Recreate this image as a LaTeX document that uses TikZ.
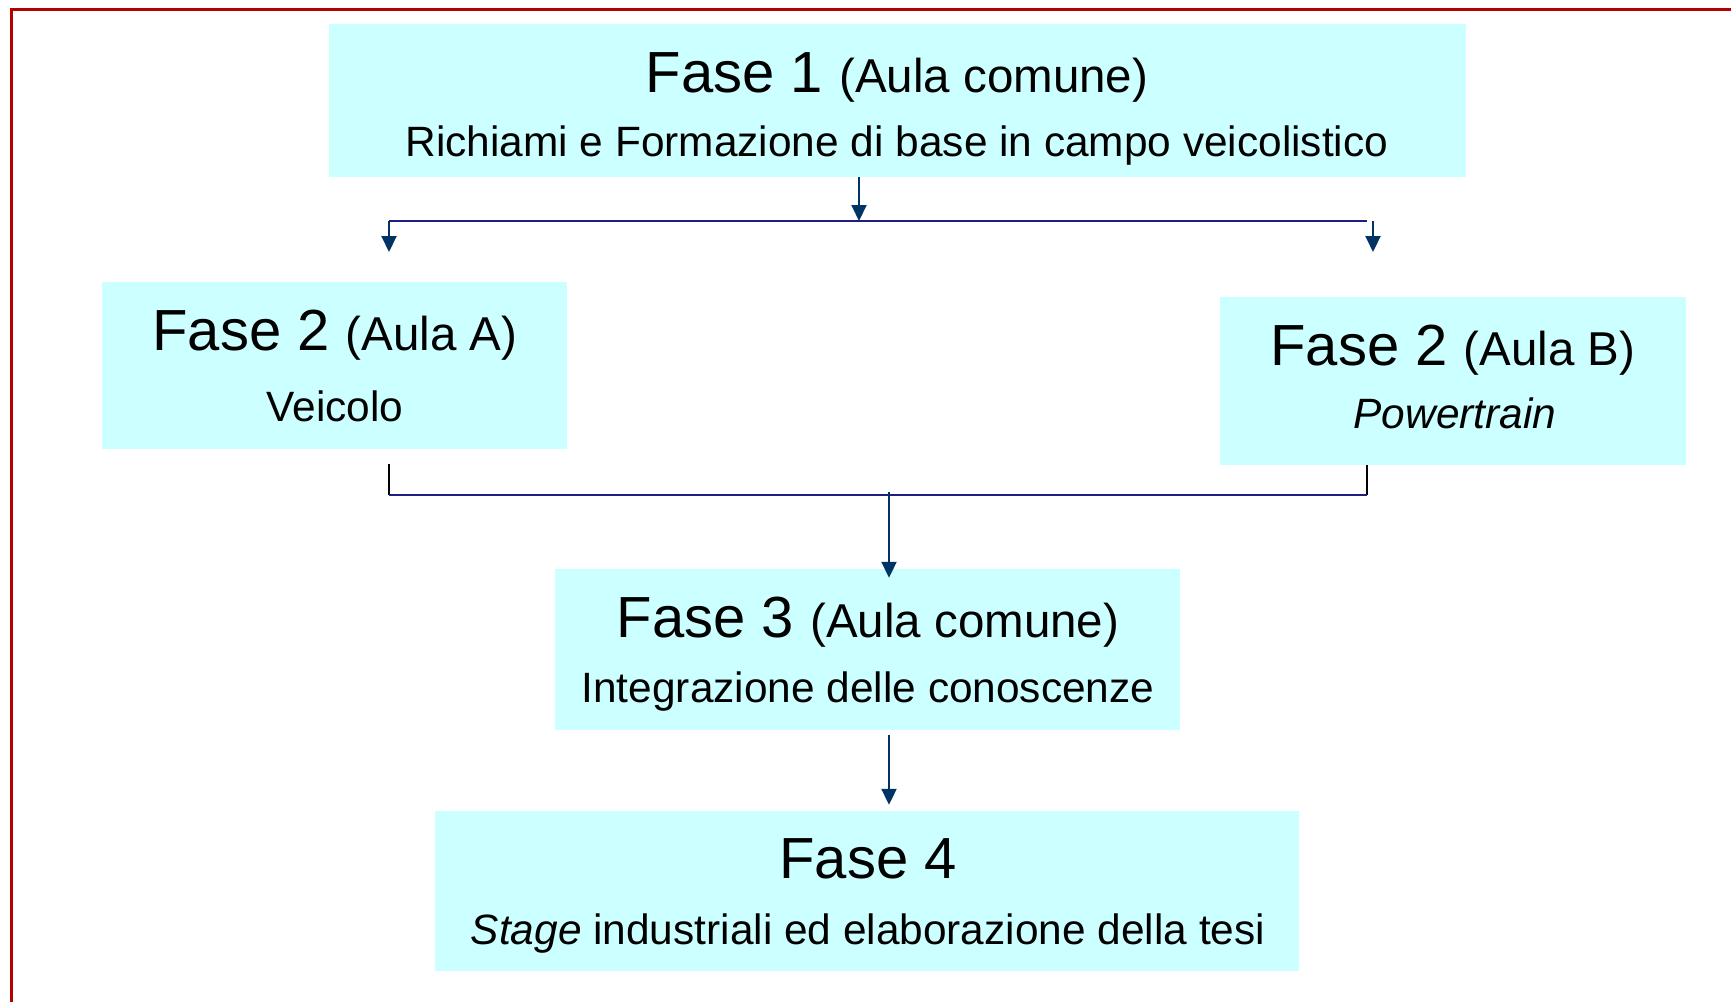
\documentclass[tikz,border=0pt]{standalone}
\usepackage{fontspec}
\setmainfont{Liberation Sans}
\usetikzlibrary{arrows.meta,calc}
\definecolor{boxfill}{HTML}{CCFFFF}
\definecolor{arrowblue}{HTML}{003366}
\definecolor{lineblue}{HTML}{1E1E82}
\definecolor{framered}{HTML}{B30000}
\newcommand{\fasefont}{\fontsize{58}{60}\selectfont}
\newcommand{\aulafont}{\fontsize{47.5}{50}\selectfont}
\newcommand{\subfont}{\fontsize{42.4}{46}\selectfont}
\begin{document}
\begin{tikzpicture}[x=1pt,y=-1pt,
  phasebox/.style={rectangle, fill=boxfill, draw=none, inner sep=0pt},
  txt/.style={anchor=base, inner sep=0pt, text=black},
  arr/.style={draw=arrowblue, line width=2pt, -{Triangle[width=15pt,length=16pt]}},
  hline/.style={draw=lineblue, line width=2.5pt},
  vline/.style={draw=black, line width=2pt}]
\useasboundingbox[fill=white] (0,0) rectangle (1731,1001);
% frame
\draw[framered, line width=3.5pt] (11.5,1010) -- (11.5,9.5) -- (1740,9.5);
% boxes
\node[phasebox, minimum width=1137pt, minimum height=153pt] (b1) at (897.5,100.5) {};
\node[phasebox, minimum width=465pt, minimum height=167pt] (b2a) at (334.5,365.5) {};
\node[phasebox, minimum width=466pt, minimum height=168pt] (b2b) at (1453,381) {};
\node[phasebox, minimum width=625pt, minimum height=161pt] (b3) at (867.5,649.5) {};
\node[phasebox, minimum width=864pt, minimum height=160pt] (b4) at (867,891) {};
% texts
\node[txt] (t1) at (897,92) {\fasefont Fase 1 \aulafont (Aula comune)};
\node[txt] (s1) at (897,156) {\subfont Richiami e Formazione di base in campo veicolistico};
\node[txt] (t2a) at (335,350) {\fasefont Fase 2 \aulafont (Aula A)};
\node[txt] (s2a) at (335,421) {\subfont Veicolo};
\node[txt] (t2b) at (1453,365) {\fasefont Fase 2 \aulafont (Aula B)};
\node[txt] (s2b) at (1455,428) {\subfont\itshape Powertrain};
\node[txt] (t3) at (868,637) {\fasefont Fase 3 \aulafont (Aula comune)};
\node[txt] (s3) at (868,702) {\subfont Integrazione delle conoscenze};
\node[txt] (t4) at (868,878) {\fasefont Fase 4};
\node[txt] (s4) at (868,944) {\subfont\textit{Stage} industriali ed elaborazione della tesi};
% split coordinates
\coordinate (sp) at (859,221);
\coordinate (spl) at (389,221);
\coordinate (spr) at (1373,221);
\coordinate (endl) at (389,252);
\coordinate (endr) at (1373,252);
\coordinate (jl) at (389,495);
\coordinate (jr) at (1367,495);
\coordinate (jm) at (889,495);
% connectors
\draw[hline] (spl) -- (1367,221);
\draw[arr] (b1.south -| sp) -- (sp);
\draw[arr] (spl) -- (endl);
\draw[arr] (spr) -- (endr);
\draw[vline] (jl |- 0,464) -- (jl);
\draw[vline] (b2b.south -| jr) -- (jr);
\draw[hline] (jl) -- (jr);
\draw[arr] ($(jm)+(0,-3)$) -- ($(b3.north -| jm)+(0,9)$);
\draw[arr] ($(b3.south -| jm)+(0,5)$) -- ($(b4.north -| jm)+(0,-6)$);
\end{tikzpicture}
\end{document}
